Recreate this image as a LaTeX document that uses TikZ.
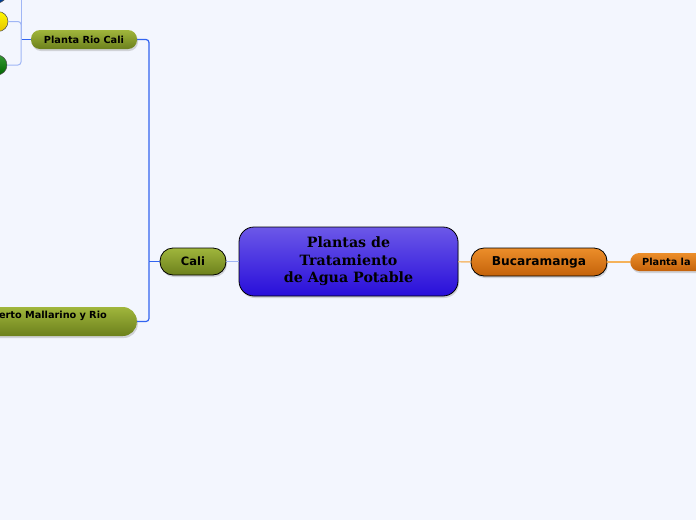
\documentclass[tikz,border=0pt]{standalone}
\usepackage{fontspec}
\setsansfont{DejaVu Sans}
\newfontfamily\rootfont{DejaVu Serif}
\usetikzlibrary{shadows}
\definecolor{paper}{RGB}{243,246,254}
\definecolor{rootTop}{RGB}{108,88,232}
\definecolor{rootBot}{RGB}{40,14,218}
\definecolor{oliveTop}{RGB}{160,182,60}
\definecolor{oliveBot}{RGB}{108,128,28}
\definecolor{orangeTop}{RGB}{236,142,42}
\definecolor{orangeBot}{RGB}{196,98,10}
\definecolor{linkBlue}{RGB}{50,100,240}
\definecolor{linkPale}{RGB}{160,182,245}
\definecolor{linkOrange}{RGB}{245,190,120}
\definecolor{linkAmber}{RGB}{245,178,90}
\tikzset{
  topic/.style={rounded corners=#1,drop shadow={opacity=.3,shadow xshift=1pt,shadow yshift=-2pt},
    font=\sffamily\bfseries,inner sep=0pt},
  olive/.style={top color=oliveTop,bottom color=oliveBot},
  orange/.style={top color=orangeTop,bottom color=orangeBot},
  knob/.style={circle,minimum size=20pt,draw=black!70,line width=.5pt,inner sep=0pt},
  link/.style={line width=1.2pt,linkBlue},
}
\begin{document}
\begin{tikzpicture}[x=1pt,y=-1pt]
\path[use as bounding box,fill=paper] (0,0) rectangle (696,520);
% central topic
\node[topic=15pt,draw=black,line width=.8pt,top color=rootTop,bottom color=rootBot,
  minimum width=219pt,minimum height=69pt,align=center,
  font=\rootfont\bfseries\fontsize{14.2}{17.5}\selectfont] (root) at (348.5,261.5)
  {Plantas de\\Tratamiento\\de Agua Potable};
% main branches
\node[topic=13pt,draw=black,line width=.8pt,olive,minimum width=66pt,minimum height=27pt,
  font=\sffamily\bfseries\fontsize{11.5}{13}\selectfont] (cali) at (193,261.5) {Cali};
\node[topic=13pt,draw=black,line width=.8pt,orange,minimum width=136pt,minimum height=28pt,
  font=\sffamily\bfseries\fontsize{12.2}{14}\selectfont] (buca) at (539,262) {Bucaramanga};
% sub topics
\node[topic=9pt,olive,minimum width=106pt,minimum height=19pt,
  font=\sffamily\bfseries\fontsize{9.75}{11}\selectfont] (rioCali) at (84,39.5) {Planta Rio Cali};
\node[topic=14pt,olive,minimum height=29pt,text width=140pt,align=right,inner xsep=30pt,
  text depth=12.5pt,anchor=east,font=\sffamily\bfseries\fontsize{9.75}{11}\selectfont]
  (mallarino) at (137,321.5) {erto Mallarino y Rio};
\node[topic=9pt,orange,minimum height=18pt,anchor=west,text width=70pt,inner xsep=12pt,
  font=\sffamily\bfseries\fontsize{9.75}{11}\selectfont] (plantaLa) at (630,262) {Planta la};
% leaves of Planta Rio Cali
\node[knob,top color=cyan!50!blue!80!black,bottom color=cyan!40!blue!55!black] (c1) at (-3,-7) {};
\node[knob,top color=yellow!95!orange,bottom color=yellow!70!orange!90!black] (c2) at (-2,21.5) {};
\node[knob,top color=green!50!black!80!white,bottom color=green!40!black] (c3) at (-3,65) {};
% connectors
\coordinate (caliJ) at (149,261.5);
\coordinate (rioJ) at (21,39.5);
\draw[line width=1.4pt,linkPale] (cali) -- (root);
\draw[line width=1.4pt,linkOrange] (root) -- (buca);
\draw[line width=1.2pt,linkAmber] (buca) -- (plantaLa);
\draw[link] (cali.west) -- (caliJ);
\draw[link,rounded corners=3pt] (rioCali.east) -| (caliJ);
\draw[link,rounded corners=3pt] (mallarino.east) -| (caliJ);
\draw[link] (rioCali.west) -- (rioJ);
\draw[line width=1pt,linkPale,rounded corners=3pt] (c2.east) -| (rioJ);
\draw[line width=1pt,linkPale,rounded corners=3pt] (c3.east) -| (rioJ);
\draw[line width=1pt,linkPale] (rioJ) -- (21,-10);
\end{tikzpicture}
\end{document}
